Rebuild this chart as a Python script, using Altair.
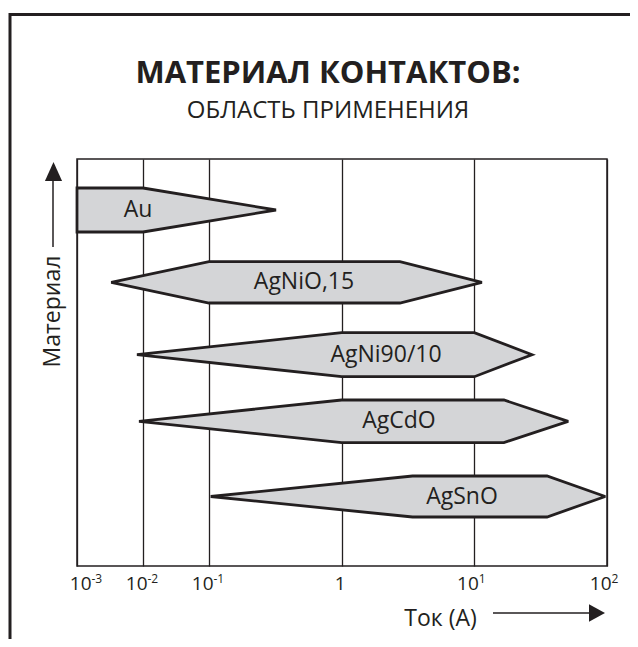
import altair as alt
import pandas as pd

# ---- data ----
materials = ["Au", "AgNiO,15", "AgNi90/10", "AgCdO", "AgSnO"]
# current (A) at the outline vertices of each band
left_tip = [0.001, 0.0033, 0.0081, 0.0087, 0.103]
left_corner = [0.001, 0.1, 1, 1, 3.42]
right_corner = [0.01, 2.75, 10, 16.7, 35.3]
right_tip = [0.32, 11.4, 27.2, 51, 97]
# vertical position of each band (arbitrary units, 0 = top of plot)
row_center = [5.1, 12.33, 19.57, 26.23, 33.75]
half_height = [2.2, 2.07, 2.2, 2.13, 2.05]
# label position (current, A)
label_current = [0.0084, 0.52, 2.16, 2.7, 8.07]

tick_values = [0.001, 0.01, 0.1, 1, 10, 100]
tick_bases = ["10", "10", "10", "1", "10", "10"]
tick_exponents = ["-3", "-2", "-1", "", "1", "2"]

title_text = "МАТЕРИАЛ КОНТАКТОВ:"
subtitle_text = "ОБЛАСТЬ ПРИМЕНЕНИЯ"
x_title = "Ток (А)"
y_title = "Материал"

# ---- build tables ----
rows = []
for m, lt, lc, rc, rt, c, h in zip(materials, left_tip, left_corner, right_corner,
                                   right_tip, row_center, half_height):
    pts = []
    if lt != lc:
        pts.append((lt, c, c))
    pts += [(lc, c - h, c + h), (rc, c - h, c + h), (rt, c, c)]
    for x, t, b in pts:
        rows.append({"material": m, "I": x, "top": t, "bot": b})
shapes = pd.DataFrame(rows)
labels = pd.DataFrame({"material": materials, "I": label_current, "y": row_center})
one = pd.DataFrame({"k": [0]})

INK = "#231f20"
FONT = "Open Sans"

xscale = alt.Scale(type="log", domain=[0.001, 0.1, 100], range=[0, 132, 530], nice=False)
yscale = alt.Scale(domain=[0, 40.7], reverse=True, nice=False, zero=False)

vals_js = "[" + ",".join(repr(v) for v in tick_values) + "]"


def pick(lst):
    return "[" + ",".join("'%s'" % t for t in lst) + "][indexof(" + vals_js + ", datum.value)]"


label_offset = {"condition": [{"test": "datum.value <= 0.001", "value": 14},
                              {"test": "datum.value == 1", "value": -2}],
                "value": 4}

base_axis = alt.Axis(
    orient="bottom", values=tick_values, labelExpr=pick(tick_bases),
    grid=True, gridColor=INK, gridWidth=1.3,
    ticks=False, domain=False, labelFont=FONT, labelFontSize=19, labelColor=INK,
    labelPadding=8, labelOverlap=False, labelFlush=False, labelBaseline="top",
    labelAlign={"condition": {"test": "datum.value == 1", "value": "center"}, "value": "right"},
    labelOffset=label_offset,
    title=x_title, titleFont=FONT, titleFontSize=23, titleFontWeight="normal",
    titleColor=INK, titleX=363, titleY=59, titleAlign="center", titleBaseline="alphabetic",
)
exp_axis = alt.Axis(
    orient="bottom", values=tick_values, labelExpr=pick(tick_exponents),
    grid=False, ticks=False, domain=False, labelFont=FONT, labelFontSize=12,
    labelColor=INK, labelPadding=7, labelOverlap=False, labelFlush=False,
    labelBaseline="top", labelAlign="left", labelOffset=label_offset, title=None,
)
yaxis = alt.Axis(
    title=y_title, labels=False, ticks=False, grid=False, domain=False,
    titleFont=FONT, titleFontSize=23, titleFontWeight="normal", titleColor=INK,
    titleAngle=270, titleX=-18, titleY=152, titleAlign="center", titleBaseline="alphabetic",
)

frame = alt.Chart(one).mark_rect(filled=False, stroke=INK, strokeWidth=3).encode(
    x=alt.value(-67), x2=alt.value(800), y=alt.value(-144.5), y2=alt.value(800))

bands = alt.Chart(shapes).mark_area(
    fill="#d4d5d7", stroke=INK, strokeWidth=2.8, opacity=1, fillOpacity=1,
    interpolate="linear", strokeJoin="miter", strokeMiterLimit=3,
).encode(
    x=alt.X("I:Q", scale=xscale, axis=base_axis),
    y=alt.Y("top:Q", scale=yscale, axis=yaxis, stack=None),
    y2="bot:Q",
    detail="material:N",
)

texts = alt.Chart(labels).mark_text(
    font=FONT, fontSize=23, color=INK, align="center", baseline="middle"
).encode(
    x=alt.X("I:Q", scale=xscale, axis=exp_axis),
    y=alt.Y("y:Q", scale=yscale, axis=yaxis),
    text="material:N",
)

title = alt.Chart(one).mark_text(
    font=FONT, fontSize=31, fontWeight="bold", color=INK, align="center", baseline="alphabetic"
).encode(x=alt.value(251), y=alt.value(-76), text=alt.value(title_text))

subtitle = alt.Chart(one).mark_text(
    font=FONT, fontSize=24, color=INK, align="center", baseline="alphabetic"
).encode(x=alt.value(251), y=alt.value(-41), text=alt.value(subtitle_text))

y_line = alt.Chart(one).mark_rule(color=INK, strokeWidth=1.5).encode(
    x=alt.value(-24), y=alt.value(22), y2=alt.value(88))
y_head = alt.Chart(one).mark_point(
    shape="M0,-1L0.9,1L-0.9,1Z", filled=True, color=INK, opacity=1, size=361, strokeWidth=0
).encode(x=alt.value(-23.5), y=alt.value(12.5))

x_line = alt.Chart(one).mark_rule(color=INK, strokeWidth=1.5).encode(
    x=alt.value(416), x2=alt.value(514), y=alt.value(454))
x_head = alt.Chart(one).mark_point(
    shape="M1,0L-1,-1.1L-1,1.1Z", filled=True, color=INK, opacity=1, size=256, strokeWidth=0
).encode(x=alt.value(520), y=alt.value(454))

chart = alt.layer(frame, bands, texts, title, subtitle, y_line, y_head, x_line, x_head).resolve_axis(
    x="independent"
).properties(
    width=530, height=407,
    autosize=alt.AutoSizeParams(type="none"),
    padding={"left": 69, "top": 151, "right": 23, "bottom": 73},
    background="white",
).configure_view(stroke=INK, strokeWidth=1.5)

chart.save("out.html", embed_options={"renderer": "svg", "actions": False})
